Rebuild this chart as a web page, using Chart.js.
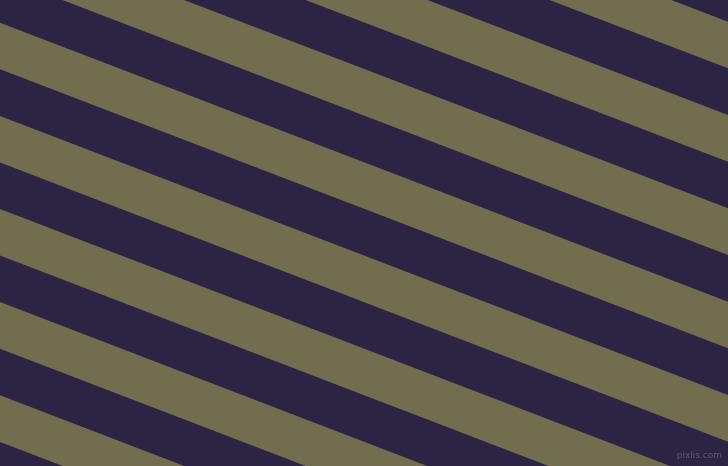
<!DOCTYPE html>
<html>
<head>
<meta charset="utf-8">
<script src="https://cdn.jsdelivr.net/npm/chart.js@4/dist/chart.umd.min.js"></script>
<style>
  html, body { margin: 0; padding: 0; background: #2c2443; }
  canvas { display: block; }
</style>
</head>
<body>
<canvas id="stage" width="728" height="466"></canvas>
<script>
// stripe colours
var bgColor = '#2c2443';
var stripeColor = '#736d50';

// olive stripes: y of top / bottom edge at the left (x=0) and right (x=728) side
var topLeft     = [-256.8, -163.6, -70.5, 22.7, 115.9, 209.0, 302.1, 395.3];
var bottomLeft  = [-210.2, -117.0, -23.9, 69.3, 162.4, 255.6, 348.7, 441.9];
var topRight    = [21.7, 115.0, 208.3, 301.7, 395.0, 488.2, 581.4, 674.6];
var bottomRight = [68.3, 161.7, 255.0, 348.3, 441.7, 534.8, 628.0, 721.2];
var xEdges = [0, 728];

var datasets = [];
for (var i = 0; i < topLeft.length; i++) {
  // upper edge line
  datasets.push({
    data: [{x: xEdges[0], y: topLeft[i]}, {x: xEdges[1], y: topRight[i]}],
    borderWidth: 0,
    pointRadius: 0,
    fill: false
  });
  // lower edge, filled up to the line above
  datasets.push({
    data: [{x: xEdges[0], y: bottomLeft[i]}, {x: xEdges[1], y: bottomRight[i]}],
    borderWidth: 0,
    pointRadius: 0,
    backgroundColor: stripeColor,
    fill: '-1'
  });
}

// small watermark in the corner
var watermark = {
  id: 'watermark',
  afterDraw: function(chart) {
    var ctx = chart.ctx;
    ctx.save();
    ctx.font = '9px "DejaVu Sans"';
    ctx.fillStyle = 'rgba(255,255,255,0.22)';
    ctx.textAlign = 'right';
    ctx.textBaseline = 'alphabetic';
    ctx.fillText('pixlis.com', 722, 458);
    ctx.restore();
  }
};

var canvas = document.getElementById('stage');
var chart = new Chart(canvas, {
  type: 'scatter',
  data: { datasets: datasets },
  options: {
    responsive: false,
    animation: false,
    showLine: true,
    layout: { padding: 0 },
    plugins: {
      legend: { display: false },
      tooltip: { enabled: false },
      filler: { propagate: false }
    },
    scales: {
      x: { type: 'linear', min: 0, max: 728, display: false },
      y: { type: 'linear', min: 0, max: 466, reverse: true, display: false }
    }
  },
  plugins: [watermark]
});
</script>
</body>
</html>
